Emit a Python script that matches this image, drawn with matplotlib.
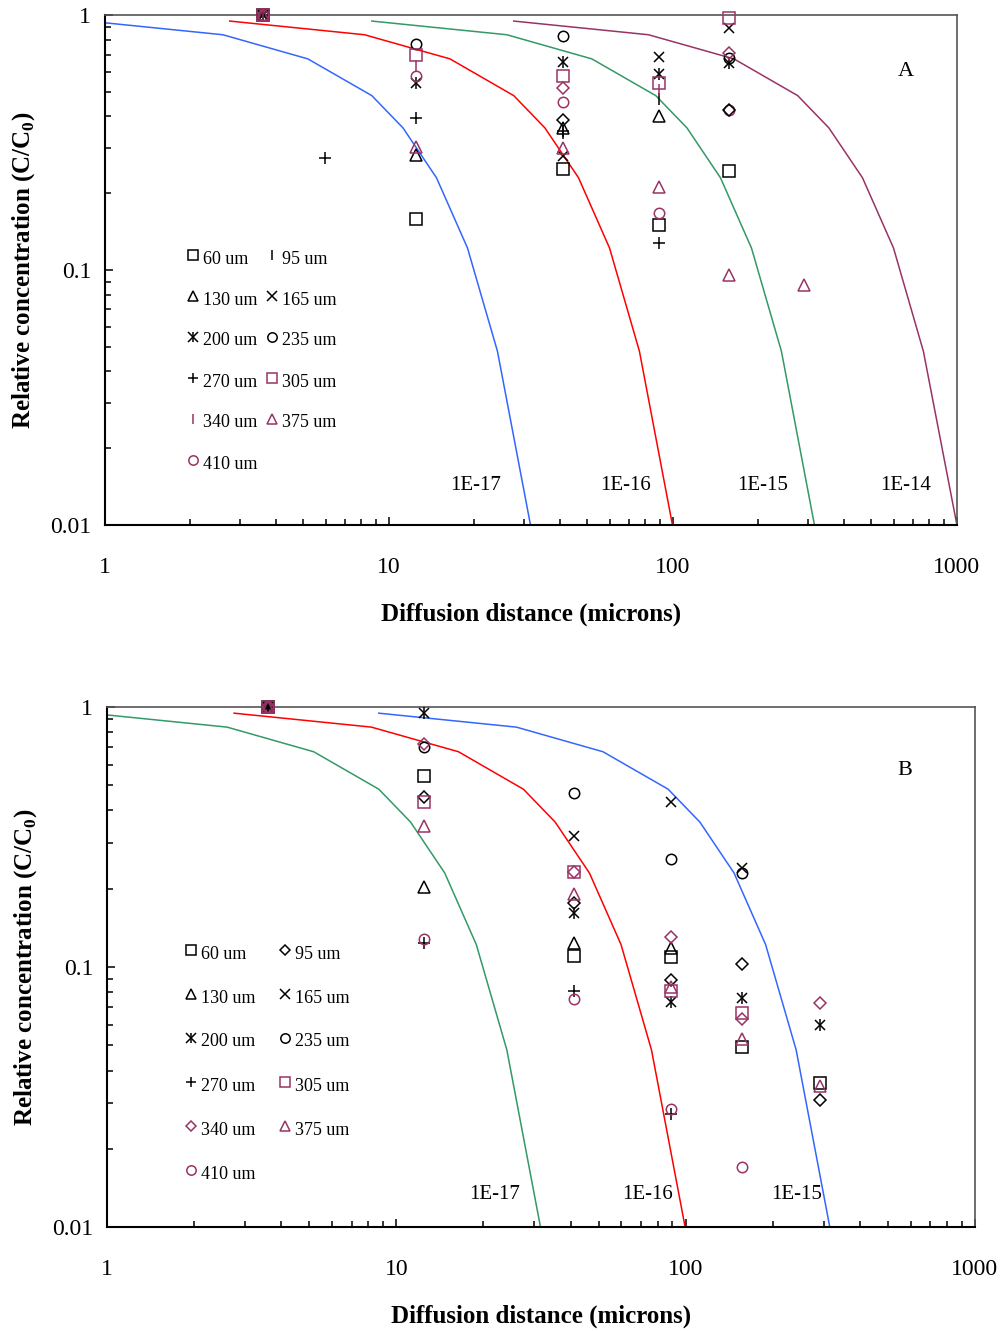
import numpy as np
import matplotlib
matplotlib.use("Agg")
import matplotlib.pyplot as plt
from matplotlib.ticker import LogLocator, FuncFormatter, NullFormatter

plt.rcParams['font.family'] = ['Liberation Serif', 'DejaVu Serif']
plt.rcParams['mathtext.fontset'] = 'custom'
plt.rcParams['mathtext.rm'] = 'Liberation Serif'
plt.rcParams['mathtext.bf'] = 'Liberation Serif:bold'

PURPLE = '#993366'

# model curves (distance in microns, C/C0)
x_1e17 = [0.87, 2.6, 5.18, 8.7, 11.2, 14.7, 18.9, 24.1, 31.5]
x_1e16 = [2.75, 8.2, 16.4, 27.5, 35.4, 46.5, 59.8, 76.2, 99.6]
x_1e15 = [8.7, 26.0, 51.8, 87.0, 112.0, 147.0, 189.0, 241.0, 315.0]
x_1e14 = [27.5, 82.0, 164.0, 275.0, 354.0, 465.0, 598.0, 762.0, 1000.0]
c_curve = [0.947, 0.837, 0.673, 0.483, 0.361, 0.230, 0.122, 0.048, 0.01]

depths = ['60 um', '95 um', '130 um', '165 um', '200 um', '235 um', '270 um',
          '305 um', '340 um', '375 um', '410 um']

# panel A measurements
a_x = {
    '60 um': [3.6, 12.5, 41, 89, 157],
    '95 um': [3.6, 41, 89],
    '130 um': [3.6, 12.5, 41, 89],
    '165 um': [3.6, 41, 89, 157],
    '200 um': [3.6, 12.5, 41, 89, 157],
    '235 um': [3.6, 12.5, 41, 157],
    '270 um': [3.6, 5.94, 12.5, 41, 89],
    '305 um': [3.6, 12.5, 41, 89, 157],
    '340 um': [3.6, 12.5, 89],
    '375 um': [3.6, 12.5, 41, 89, 157, 290],
    '410 um': [3.6, 12.5, 41, 89, 157],
}
a_y = {
    '60 um': [1, 0.158, 0.249, 0.15, 0.245],
    '95 um': [1, 0.345, 0.47],
    '130 um': [1, 0.283, 0.36, 0.402],
    '165 um': [1, 0.279, 0.683, 0.887],
    '200 um': [1, 0.542, 0.656, 0.588, 0.647],
    '235 um': [1, 0.77, 0.83, 0.679],
    '270 um': [1, 0.275, 0.395, 0.35, 0.128],
    '305 um': [1, 0.697, 0.579, 0.541, 0.97],
    '340 um': [1, 0.632, 0.51],
    '375 um': [1, 0.304, 0.302, 0.212, 0.096, 0.0877],
    '410 um': [1, 0.577, 0.458, 0.1675, 0.425],
}
# diamonds in panel A that have no legend entry
a_dia_black_x = [41, 157]
a_dia_black_y = [0.386, 0.425]
a_dia_purple_x = [41, 157]
a_dia_purple_y = [0.517, 0.708]

# panel B measurements
b_x = {
    '60 um': [3.6, 12.5, 41, 89, 157, 291],
    '95 um': [3.6, 12.5, 41, 89, 157, 291],
    '130 um': [3.6, 12.5, 41, 89],
    '165 um': [3.6, 41, 89, 157],
    '200 um': [3.6, 12.5, 41, 89, 157, 291],
    '235 um': [3.6, 12.5, 41, 89, 157],
    '270 um': [3.6, 12.5, 41, 89],
    '305 um': [3.6, 12.5, 41, 89, 157],
    '340 um': [3.6, 12.5, 41, 89, 157, 291],
    '375 um': [3.6, 12.5, 41, 89, 157, 291],
    '410 um': [3.6, 12.5, 41, 89, 157],
}
b_y = {
    '60 um': [1, 0.543, 0.110, 0.109, 0.0494, 0.0357],
    '95 um': [1, 0.45, 0.177, 0.0895, 0.103, 0.0307],
    '130 um': [1, 0.203, 0.124, 0.1185],
    '165 um': [1, 0.318, 0.433, 0.24],
    '200 um': [1, 0.95, 0.161, 0.0733, 0.076, 0.0601],
    '235 um': [1, 0.70, 0.465, 0.261, 0.23],
    '270 um': [1, 0.124, 0.081, 0.0272],
    '305 um': [1, 0.431, 0.231, 0.081, 0.0667],
    '340 um': [1, 0.719, 0.231, 0.131, 0.0629, 0.0729],
    '375 um': [1, 0.349, 0.191, 0.084, 0.053, 0.0349],
    '410 um': [1, 0.128, 0.0755, 0.0284, 0.017],
}

style_a = {
    '60 um': ('s', 'k'), '95 um': ('|', 'k'), '130 um': ('^', 'k'),
    '165 um': ('x', 'k'), '200 um': ('ast', 'k'), '235 um': ('o', 'k'),
    '270 um': ('+', 'k'), '305 um': ('s', PURPLE), '340 um': ('|', PURPLE),
    '375 um': ('^', PURPLE), '410 um': ('o', PURPLE),
}
style_b = dict(style_a)
style_b['95 um'] = ('D', 'k')
style_b['340 um'] = ('D', PURPLE)

msize = {'s': 8, '^': 8, 'o': 7.5, 'x': 7.5, '+': 8.5, '|': 8, 'D': 6}


def draw_pts(ax, xs, ys, m, c, scale=1.0, **kw):
    # asterisk = x with a vertical bar through it
    parts = ['x', '|'] if m == 'ast' else [m]
    for p in parts:
        ax.plot(xs, ys, ls='none', marker=p, ms=msize[p] * scale, mfc='none',
                mec=c, mew=1.1, clip_on=False, zorder=4, **kw)


def setup(ax):
    ax.set_xscale('log')
    ax.set_yscale('log')
    ax.set_xlim(1, 1000)
    ax.set_ylim(0.01, 1)
    ax.xaxis.set_major_locator(LogLocator(base=10, numticks=10))
    ax.xaxis.set_minor_locator(LogLocator(base=10, subs=np.arange(2, 10), numticks=10))
    ax.yaxis.set_minor_locator(LogLocator(base=10, subs=np.arange(2, 10), numticks=10))
    fmt = FuncFormatter(lambda v, p: '%g' % v)
    ax.xaxis.set_major_formatter(fmt)
    ax.yaxis.set_major_formatter(fmt)
    ax.xaxis.set_minor_formatter(NullFormatter())
    ax.yaxis.set_minor_formatter(NullFormatter())
    ax.tick_params(which='both', direction='in', top=False, right=False,
                   labelsize=17, width=1.1)
    ax.tick_params(axis='x', which='both', pad=23)
    ax.tick_params(axis='y', which='both', pad=10)
    ax.tick_params(which='major', length=6)
    ax.tick_params(which='minor', length=4)
    for s in ['left', 'bottom']:
        ax.spines[s].set_linewidth(1.5)
    for s in ['top', 'right']:
        ax.spines[s].set_color('#555555')
        ax.spines[s].set_linewidth(1.2)
    ax.set_xlabel('Diffusion distance (microns)', fontsize=18,
                  fontweight='bold', labelpad=18)
    ax.set_ylabel('Relative concentration (C/C$_\\mathbf{0}$)', fontsize=18,
                  fontweight='bold', labelpad=9)


def legend(ax, styles, cols, rows):
    for i, d in enumerate(depths):
        m, c = styles[d]
        cx, tx = cols[i % 2]
        y = rows[i // 2]
        draw_pts(ax, [cx], [y + 0.008], m, c, scale=0.9, transform=ax.transAxes)
        ax.text(tx, y, d, transform=ax.transAxes, fontsize=13, va='center', ha='left')


fig = plt.figure(figsize=(10.02, 13.31), dpi=100)
axA = fig.add_axes([0.1048, 0.6056, 0.8502, 0.3831])
axB = fig.add_axes([0.1068, 0.0781, 0.8662, 0.3907])

# panel A
setup(axA)
axA.plot(x_1e17, c_curve, color='#3366FF', lw=1.1)
axA.plot(x_1e16, c_curve, color='#FF0000', lw=1.1)
axA.plot(x_1e15, c_curve, color='#339966', lw=1.1)
axA.plot(x_1e14, c_curve, color=PURPLE, lw=1.1)
for d in depths:
    m, c = style_a[d]
    draw_pts(axA, a_x[d], a_y[d], m, c)
draw_pts(axA, a_dia_black_x, a_dia_black_y, 'D', 'k')
draw_pts(axA, a_dia_purple_x, a_dia_purple_y, 'D', PURPLE)
legend(axA, style_a, [(0.103, 0.115), (0.196, 0.208)],
       [0.521, 0.441, 0.361, 0.280, 0.200, 0.119])
for lab, xx in [('1E-17', 20.2), ('1E-16', 68.1), ('1E-15', 207), ('1E-14', 658)]:
    axA.text(xx, 0.0143, lab, fontsize=15, ha='center', va='center')
axA.text(662, 0.6, 'A', fontsize=16, ha='center', va='center')

# panel B
setup(axB)
axB.plot(x_1e17, c_curve, color='#339966', lw=1.1)
axB.plot(x_1e16, c_curve, color='#FF0000', lw=1.1)
axB.plot(x_1e15, c_curve, color='#3366FF', lw=1.1)
for d in depths:
    m, c = style_b[d]
    draw_pts(axB, b_x[d], b_y[d], m, c)
legend(axB, style_b, [(0.0968, 0.1083), (0.205, 0.2166)],
       [0.525, 0.440, 0.356, 0.271, 0.186, 0.102])
for lab, xx in [('1E-17', 21.9), ('1E-16', 73.6), ('1E-15', 241)]:
    axB.text(xx, 0.0133, lab, fontsize=15, ha='center', va='center')
axB.text(572, 0.57, 'B', fontsize=16, ha='center', va='center')

fig.savefig('out.png', dpi=100)
